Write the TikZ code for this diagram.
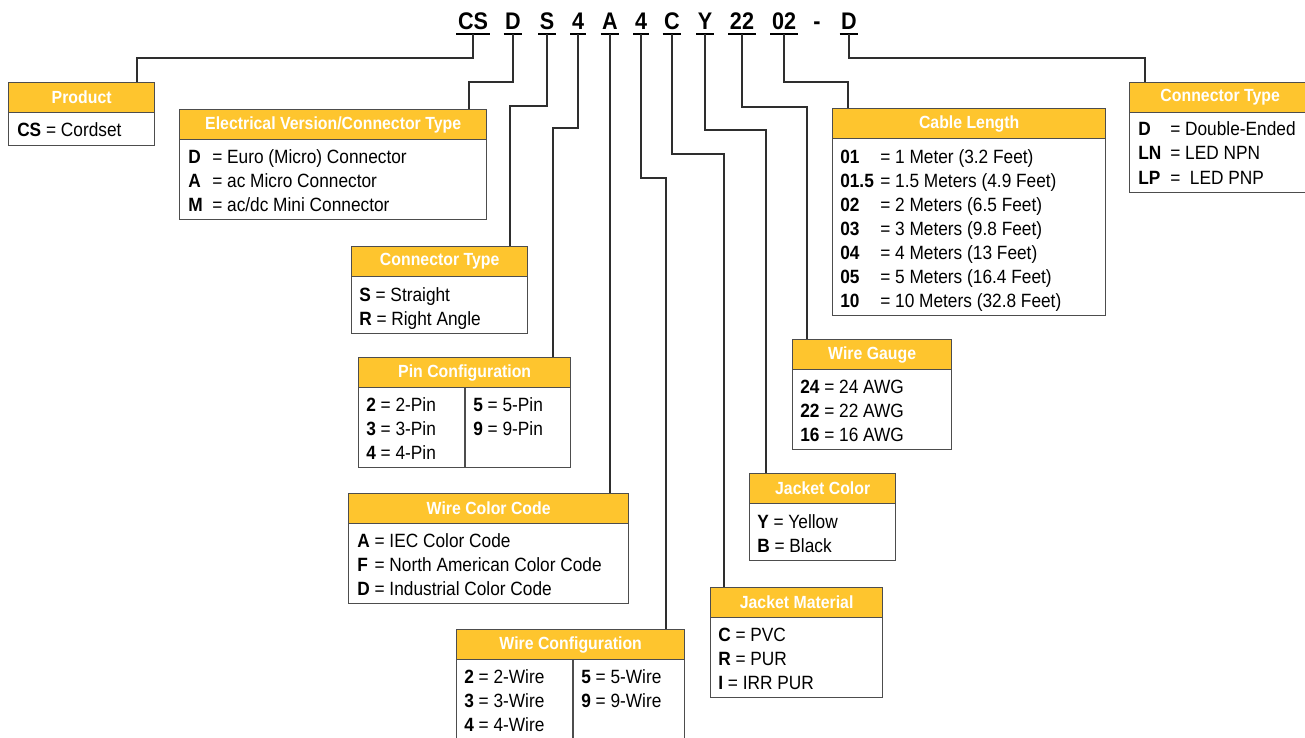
\documentclass[tikz,border=0pt]{standalone}
\usepackage{fontspec}
\setmainfont{Liberation Sans}[FakeStretch=0.9]
\definecolor{hdr}{HTML}{FEC52E}
\definecolor{bord}{HTML}{4D4D4D}
\definecolor{wirec}{HTML}{2E2E2E}
\tikzset{
  keybox/.style={draw=bord, line width=1pt, fill=white, inner sep=0pt, anchor=north west},
  hdrbox/.style={draw=bord, line width=1pt, fill=hdr, inner sep=0pt, anchor=north west,
    minimum height=22.5pt, text=white, font=\fontsize{13.2}{15}\selectfont\bfseries},
  row/.style={anchor=base west, inner sep=0pt, font=\fontsize{14.4}{17}\selectfont},
  code/.style={anchor=base, inner ysep=0pt, inner xsep=1pt, text depth=3pt,
    font=\fontsize{18}{20}\selectfont\bfseries},
  uline/.style={line width=1.6pt},
  wire/.style={draw=wirec, line width=1pt},
  divider/.style={draw=bord, line width=1pt},
}
\newcommand{\kbox}[6]{%
  \node[keybox, minimum width={(#4-#2)*0.75pt}, minimum height={(#5-#3)*0.75pt}] (#1) at (#2,#3) {};
  \node[hdrbox, minimum width={(#4-#2)*0.75pt}] (#1h) at (#2,#3) {#6};
}
\begin{document}
\begin{tikzpicture}[x=0.75pt,y=-0.75pt]
\useasboundingbox (0,0) rectangle (1305,738);
\clip (0,0) rectangle (1305,738);
\fill[white] (0,0) rectangle (1305,738);

% code letters
\foreach \n/\x/\t in {cCS/473/CS, cD/513/D, cS/547/S, cPa/578/4, cA/610/A, cWb/641/4, cC/672/C, cY/705/Y, cG/742/22, cL/784/02, cT/849/D}{
  \node[code] (\n) at (\x,30) {\t};
  \draw[uline] (\n.south west) -- (\n.south east);
}
\node[code, text depth=0pt] (cDash) at (817,30) {-};

% boxes
\kbox{prod}{8}{82}{154}{145}{Product}
\kbox{elec}{179}{109}{486}{219}{Electrical Version/Connector Type}
\kbox{cons}{351}{246}{527}{333}{Connector Type}
\kbox{pin}{358}{357}{570}{467}{Pin Configuration}
\kbox{wcc}{348}{493}{628}{603}{Wire Color Code}
\kbox{wcf}{456}{629}{684}{739}{Wire Configuration}
\kbox{jm}{710}{587}{882}{697}{Jacket Material}
\kbox{jc}{749}{473}{895}{560}{Jacket Color}
\kbox{wg}{792}{339}{951}{449}{Wire Gauge}
\kbox{cl}{832}{108}{1105}{315}{Cable Length}
\kbox{ct}{1129}{82}{1310}{192}{Connector Type}

\draw[divider] (465,387) -- (465,467);
\draw[divider] (573,659) -- (573,739);

% connectors
\coordinate (k1) at (137,58);
\draw[wire] (cCS.south) |- (k1) -- (k1 |- prodh.north);
\coordinate (k2) at (469,82);
\draw[wire] (cD.south) |- (k2) -- (k2 |- elech.north);
\coordinate (k3) at (510,106);
\draw[wire] (cS.south) |- (k3) -- (k3 |- consh.north);
\coordinate (k4) at (553,128);
\draw[wire] (cPa.south) |- (k4) -- (k4 |- pinh.north);
\draw[wire] (cA.south) -- (cA.south |- wcch.north);
\coordinate (k6) at (666,178);
\draw[wire] (cWb.south) |- (k6) -- (k6 |- wcfh.north);
\coordinate (k7) at (724,154);
\draw[wire] (cC.south) |- (k7) -- (k7 |- jmh.north);
\coordinate (k8) at (766,130);
\draw[wire] (cY.south) |- (k8) -- (k8 |- jch.north);
\coordinate (k9) at (807,107);
\draw[wire] (cG.south) |- (k9) -- (k9 |- wgh.north);
\coordinate (k10) at (848,82);
\draw[wire] (cL.south) |- (k10) -- (k10 |- clh.north);
\coordinate (k11) at (1145,58);
\draw[wire] (cT.south) |- (k11) -- (k11 |- cth.north);

% rows
\node[row] (r1) at (17,137) {\textbf{CS} = Cordset};

\node[row] (e1) at (188,163) {\makebox[18pt][l]{\textbf{D}}= Euro (Micro) Connector};
\node[row] (e2) at (188,187) {\makebox[18pt][l]{\textbf{A}}= ac Micro Connector};
\node[row] (e3) at (188,211) {\makebox[18pt][l]{\textbf{M}}= ac/dc Mini Connector};

\node[row] (s1) at (359,301) {\textbf{S} = Straight};
\node[row] (s2) at (359,325) {\textbf{R} = Right Angle};

\node[row] (p1) at (366,411) {\textbf{2} = 2-Pin};
\node[row] (p2) at (366,435) {\textbf{3} = 3-Pin};
\node[row] (p3) at (366,459) {\textbf{4} = 4-Pin};
\node[row] (p4) at (473,411) {\textbf{5} = 5-Pin};
\node[row] (p5) at (473,435) {\textbf{9} = 9-Pin};

\node[row] (w1) at (357,547) {\makebox[13pt][l]{\textbf{A}}= IEC Color Code};
\node[row] (w2) at (357,571) {\makebox[13pt][l]{\textbf{F}}= North American Color Code};
\node[row] (w3) at (357,595) {\makebox[13pt][l]{\textbf{D}}= Industrial Color Code};

\node[row] (f1) at (464,683) {\textbf{2} = 2-Wire};
\node[row] (f2) at (464,707) {\textbf{3} = 3-Wire};
\node[row] (f3) at (464,731) {\textbf{4} = 4-Wire};
\node[row] (f4) at (581,683) {\textbf{5} = 5-Wire};
\node[row] (f5) at (581,707) {\textbf{9} = 9-Wire};

\node[row] (m1) at (718,641) {\textbf{C} = PVC};
\node[row] (m2) at (718,665) {\textbf{R} = PUR};
\node[row] (m3) at (718,689) {\textbf{I} = IRR PUR};

\node[row] (y1) at (757,528) {\textbf{Y} = Yellow};
\node[row] (y2) at (757,552) {\textbf{B} = Black};

\node[row] (g1) at (800,393) {\textbf{24} = 24 AWG};
\node[row] (g2) at (800,417) {\textbf{22} = 22 AWG};
\node[row] (g3) at (800,441) {\textbf{16} = 16 AWG};

\node[row] (l1) at (840,163) {\makebox[30pt][l]{\textbf{01}}= 1 Meter (3.2 Feet)};
\node[row] (l2) at (840,187) {\makebox[30pt][l]{\textbf{01.5}}= 1.5 Meters (4.9 Feet)};
\node[row] (l3) at (840,211) {\makebox[30pt][l]{\textbf{02}}= 2 Meters (6.5 Feet)};
\node[row] (l4) at (840,235) {\makebox[30pt][l]{\textbf{03}}= 3 Meters (9.8 Feet)};
\node[row] (l5) at (840,259) {\makebox[30pt][l]{\textbf{04}}= 4 Meters (13 Feet)};
\node[row] (l6) at (840,283) {\makebox[30pt][l]{\textbf{05}}= 5 Meters (16.4 Feet)};
\node[row] (l7) at (840,307) {\makebox[30pt][l]{\textbf{10}}= 10 Meters (32.8 Feet)};

\node[row] (t1) at (1138,136) {\makebox[24pt][l]{\textbf{D}}= Double-Ended};
\node[row] (t2) at (1138,160) {\makebox[24pt][l]{\textbf{LN}}= LED NPN};
\node[row] (t3) at (1138,184) {\makebox[24pt][l]{\textbf{LP}}=\ \ LED PNP};
\end{tikzpicture}
\end{document}
